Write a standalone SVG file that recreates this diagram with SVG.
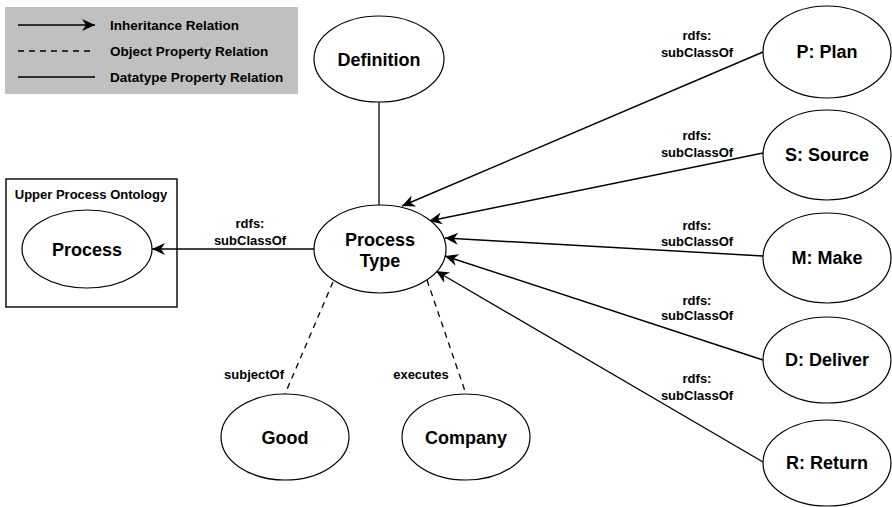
<svg xmlns="http://www.w3.org/2000/svg" width="892" height="507" viewBox="0 0 892 507">
  <style>
    text { font-family: "Liberation Sans", Arial, sans-serif; font-weight: bold; fill: #000; }
    .node ellipse { fill: #fff; stroke: #000; stroke-width: 1.2; }
    .node text { font-size: 18px; text-anchor: middle; }
    .lbl { font-size: 13px; text-anchor: middle; }
    .leg { font-size: 13.5px; }
    .inh { stroke: #000; stroke-width: 1.4; fill: none; marker-end: url(#arrow); }
    .obj { stroke: #000; stroke-width: 1.3; fill: none; stroke-dasharray: 6 5; }
    .dat { stroke: #000; stroke-width: 1.3; fill: none; }
  </style>
  <defs>
    <marker id="arrow" viewBox="-14 -7 15 14" refX="0" refY="0" markerWidth="15" markerHeight="14" markerUnits="userSpaceOnUse" orient="auto">
      <path d="M0,0 L-13,-6 L-9,0 L-13,6 Z" fill="#000"/>
    </marker>
  </defs>

  <rect width="892" height="507" fill="#fff"/>

  <!-- legend -->
  <g id="legend">
    <rect x="5" y="7" width="293" height="87" fill="#c0c0c0"/>
    <line class="inh" x1="18" y1="25" x2="95" y2="25"/>
    <line class="obj" x1="18" y1="51" x2="95" y2="51"/>
    <line class="dat" x1="18" y1="77" x2="95" y2="77"/>
    <text class="leg" x="110" y="30">Inheritance Relation</text>
    <text class="leg" x="110" y="56">Object Property Relation</text>
    <text class="leg" x="110" y="82">Datatype Property Relation</text>
  </g>

  <!-- upper ontology frame -->
  <g id="upper-ontology">
    <rect x="6" y="179" width="171" height="128" fill="none" stroke="#000" stroke-width="1.4"/>
    <text class="lbl" x="91" y="199">Upper Process Ontology</text>
  </g>

  <!-- connectors -->
  <g id="connectors">
    <line class="dat" x1="379" y1="102" x2="379" y2="205"/>
    <line class="inh" x1="314" y1="249" x2="152" y2="249"/>
    <line class="obj" x1="333" y1="282" x2="285" y2="394"/>
    <line class="obj" x1="427" y1="280" x2="466" y2="394"/>
    <line class="inh" x1="763" y1="52" x2="402" y2="206"/>
    <line class="inh" x1="763" y1="153" x2="429" y2="221"/>
    <line class="inh" x1="763" y1="256" x2="445" y2="238"/>
    <line class="inh" x1="763" y1="360" x2="445" y2="256"/>
    <line class="inh" x1="763" y1="462" x2="436" y2="271"/>

    <text class="lbl" x="250" y="228">rdfs:</text>
    <text class="lbl" x="250" y="245">subClassOf</text>
    <text class="lbl" x="254" y="379">subjectOf</text>
    <text class="lbl" x="421" y="379">executes</text>
    <text class="lbl" x="697" y="40">rdfs:</text>
    <text class="lbl" x="697" y="57">subClassOf</text>
    <text class="lbl" x="697" y="140">rdfs:</text>
    <text class="lbl" x="697" y="157">subClassOf</text>
    <text class="lbl" x="697" y="230">rdfs:</text>
    <text class="lbl" x="697" y="246">subClassOf</text>
    <text class="lbl" x="697" y="305">rdfs:</text>
    <text class="lbl" x="697" y="320">subClassOf</text>
    <text class="lbl" x="697" y="383">rdfs:</text>
    <text class="lbl" x="697" y="400">subClassOf</text>
  </g>

  <!-- nodes -->
  <g id="definition" class="node">
    <ellipse cx="379" cy="59" rx="65" ry="43"/>
    <text x="379" y="66">Definition</text>
  </g>
  <g id="process-type" class="node">
    <ellipse cx="380" cy="249" rx="66" ry="44"/>
    <text x="380" y="246">Process</text>
    <text x="380" y="267">Type</text>
  </g>
  <g id="process" class="node">
    <ellipse cx="87" cy="249" rx="65" ry="39"/>
    <text x="87" y="256">Process</text>
  </g>
  <g id="good" class="node">
    <ellipse cx="285" cy="437" rx="64" ry="43"/>
    <text x="285" y="444">Good</text>
  </g>
  <g id="company" class="node">
    <ellipse cx="466" cy="437" rx="64" ry="43"/>
    <text x="466" y="444">Company</text>
  </g>
  <g id="plan" class="node">
    <ellipse cx="827" cy="52" rx="64" ry="46"/>
    <text x="827" y="58">P: Plan</text>
  </g>
  <g id="source" class="node">
    <ellipse cx="827" cy="155" rx="64" ry="45"/>
    <text x="827" y="161">S: Source</text>
  </g>
  <g id="make" class="node">
    <ellipse cx="827" cy="258" rx="64" ry="45"/>
    <text x="827" y="264">M: Make</text>
  </g>
  <g id="deliver" class="node">
    <ellipse cx="827" cy="360" rx="64" ry="43"/>
    <text x="827" y="366">D: Deliver</text>
  </g>
  <g id="return" class="node">
    <ellipse cx="827" cy="463" rx="64" ry="43"/>
    <text x="827" y="469">R: Return</text>
  </g>
</svg>
